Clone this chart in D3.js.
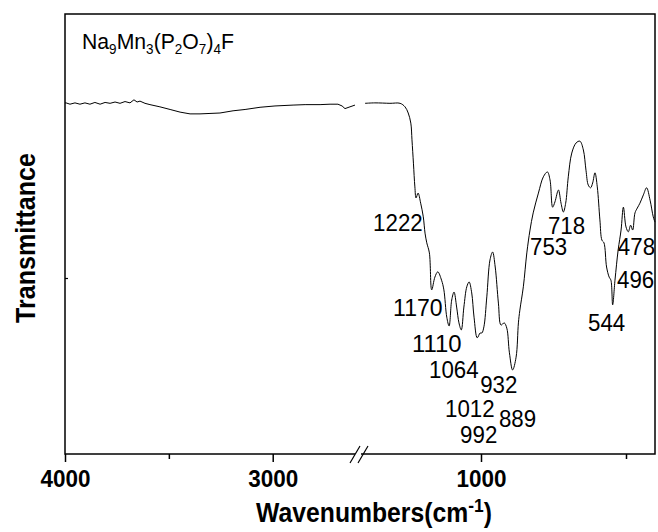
<!DOCTYPE html>
<html>
<head>
<meta charset="utf-8">
<script src="https://cdn.jsdelivr.net/npm/d3@7"></script>
<style>
  body { margin: 0; background: #fff; }
  svg { display: block; font-family: "Liberation Sans", Arial, sans-serif; }
</style>
</head>
<body>
<div id="chart"></div>
<script>
// high wavenumber part (left of the axis break)
const leftWn = [4000, 3995, 3976, 3952, 3928, 3904, 3880, 3856, 3831, 3807, 3783, 3759, 3735, 3711, 3687, 3668,
  3653, 3639, 3615, 3591, 3543, 3494, 3446, 3398, 3350, 3302, 3254, 3191, 3133, 3061, 2989, 2902, 2844, 2772,
  2724, 2686, 2666, 2652, 2628, 2604];
const leftT = [79.8, 79.8, 79.5, 79.8, 79.5, 79.8, 79.5, 79.9, 79.5, 79.9, 79.7, 80.0, 79.7, 80.1, 79.8, 80.5,
  80.0, 80.2, 79.7, 79.4, 78.9, 78.3, 77.7, 77.3, 77.3, 77.4, 77.5, 78.0, 78.3, 78.8, 79.1, 79.3, 79.4, 79.4,
  79.5, 79.5, 79.1, 78.5, 78.9, 79.3];

// fingerprint part (right of the break)
const rightWn = [1400, 1366, 1314, 1279, 1262, 1251, 1242, 1238, 1233, 1228, 1224, 1217, 1208, 1199, 1193, 1187,
  1178, 1170, 1159, 1149, 1136, 1128, 1118, 1110, 1101, 1093, 1084, 1076, 1068, 1059, 1049, 1041, 1032, 1024,
  1013, 1003, 997, 990, 980, 969, 960, 951, 940, 931, 920, 911, 902, 891, 879, 871, 866, 854, 842, 831, 820,
  802, 785, 771, 762, 753, 745, 733, 724, 716, 708, 699, 687, 672, 659, 647, 638, 630, 622, 615, 607, 599,
  590, 583, 576, 567, 558, 552, 546, 538, 527, 517, 509, 500, 492, 484, 477, 469, 461, 452, 440, 429, 417,
  406, 400];
const rightT = [79.7, 79.8, 79.7, 79.7, 78.9, 77.5, 75.2, 71.4, 66.1, 60.7, 58.2, 59.3, 57.0, 53.9, 50.2, 48.0,
  45.7, 37.3, 40.2, 41.4, 39.5, 37.3, 31.1, 29.1, 35.0, 36.8, 33.4, 29.8, 28.2, 33.4, 38.0, 39.1, 36.6, 31.1,
  26.4, 27.5, 27.5, 28.9, 35.7, 44.1, 45.9, 42.5, 34.3, 29.3, 29.8, 28.6, 23.0, 19.1, 22.0, 29.8, 32.7, 38.0,
  45.7, 50.9, 54.8, 59.3, 63.0, 64.1, 62.3, 56.1, 57.3, 60.0, 57.0, 55.0, 57.0, 63.0, 68.4, 70.7, 71.1, 69.1,
  64.5, 61.1, 60.5, 61.6, 63.9, 60.7, 53.2, 48.6, 48.0, 42.5, 40.2, 39.5, 33.9, 39.5, 46.4, 50.9, 56.1, 51.6,
  50.5, 52.0, 50.9, 54.8, 55.9, 57.0, 58.9, 60.5, 57.7, 53.9, 52.7];

// peak labels, anchored (text start, baseline) in data units
const peakText = ["1222", "1170", "1110", "1064", "1012", "992", "932", "889", "753", "718", "544", "496", "478"];
const peakAtWn = [1372, 1303, 1238, 1179, 1124, 1072, 1003, 938, 831, 769, 631, 531, 528];
const peakAtT = [50.7, 31.4, 23.2, 17.3, 8.4, 2.5, 13.9, 6.1, 45.2, 50.0, 28.0, 37.7, 45.2];

const leftTicks = [4000, 3000];
const leftMinor = [3500];
const rightTicks = [1000];
const rightMinor = [500];

const width = 658;
const height = 532;
const plot = { left: 65, right: 655, top: 14, bottom: 454 };
const breakX = 359;

const svg = d3.select("#chart").append("svg")
  .attr("width", width)
  .attr("height", height);

const xLeft = d3.scaleLinear().domain([4000, 2600]).range([plot.left, 355.8]);
const xRight = d3.scaleLinear().domain([1400, 400]).range([365, plot.right]);
const y = d3.scaleLinear().domain([0, 100]).range([plot.bottom, plot.top]);

// the original uses a narrow-looking Arial, so squeeze text horizontally to a target width
function fitWidth(node, w, anchor) {
  const b = node.getBBox();
  if (!b.width) return;
  const s = w / b.width;
  const ox = anchor === "middle" ? b.x + b.width / 2 : b.x;
  const prev = d3.select(node).attr("transform") || "";
  d3.select(node).attr("transform", `${prev} translate(${ox},0) scale(${s},1) translate(${-ox},0)`);
}

// spectrum
const leftLine = d3.line().x(d => xLeft(d[0])).y(d => y(d[1]));
const rightLine = d3.line().x(d => xRight(d[0])).y(d => y(d[1])).curve(d3.curveCatmullRom.alpha(0.5));

svg.append("path")
  .datum(d3.zip(leftWn, leftT))
  .attr("d", leftLine)
  .attr("fill", "none").attr("stroke", "#000").attr("stroke-width", 1);

svg.append("path")
  .datum(d3.zip(rightWn, rightT))
  .attr("d", rightLine)
  .attr("fill", "none").attr("stroke", "#000").attr("stroke-width", 1);

// axes
function bottomAxis(scale, ticks, size, labels) {
  const ax = d3.axisBottom(scale).tickValues(ticks).tickSizeInner(size).tickSizeOuter(0)
    .tickFormat(labels ? d3.format("d") : "");
  const gx = svg.append("g").attr("transform", `translate(0,${plot.bottom})`).call(ax);
  gx.select(".domain").remove();
  gx.selectAll("line").attr("stroke-width", 1.5);
  gx.selectAll("text")
    .attr("dy", null).attr("y", 33)
    .attr("font-family", "'Liberation Sans', Arial, sans-serif")
    .attr("font-size", 24).attr("font-weight", "bold").attr("fill", "#000")
    .each(function () { fitWidth(this, 50, "middle"); });
}
bottomAxis(xLeft, leftTicks, 8, true);
bottomAxis(xLeft, leftMinor, 5, false);
bottomAxis(xRight, rightTicks, 8, true);
bottomAxis(xRight, rightMinor, 5, false);

const gy = svg.append("g").attr("transform", `translate(${plot.left},0)`)
  .call(d3.axisLeft(y).tickValues([40]).tickSizeInner(-3).tickSizeOuter(0).tickFormat(""));
gy.select(".domain").remove();
gy.selectAll("line").attr("stroke-width", 1.2);

// frame
svg.append("rect")
  .attr("x", plot.left).attr("y", plot.top)
  .attr("width", plot.right - plot.left).attr("height", plot.bottom - plot.top)
  .attr("fill", "none").attr("stroke", "#000").attr("stroke-width", 1.5);

// axis break marks
svg.append("rect")
  .attr("x", breakX - 4).attr("y", plot.bottom - 2)
  .attr("width", 6).attr("height", 4).attr("fill", "#fff");
[-4, 4].forEach(o => {
  svg.append("line")
    .attr("x1", breakX + o - 5).attr("y1", plot.bottom + 9)
    .attr("x2", breakX + o + 5).attr("y2", plot.bottom - 8)
    .attr("stroke", "#000").attr("stroke-width", 1.2);
});

// peak labels
svg.append("g").selectAll("text")
  .data(peakText)
  .join("text")
  .attr("x", (d, i) => xRight(peakAtWn[i]))
  .attr("y", (d, i) => y(peakAtT[i]))
  .attr("font-size", 24)
  .attr("fill", "#000")
  .text(d => d)
  .each(function (d) { fitWidth(this, d.length * 12.4, "start"); });

// compound name
const formula = svg.append("text")
  .attr("x", 82).attr("y", 49)
  .attr("font-size", 22).attr("fill", "#000");
[["Na", 0], ["9", 1], ["Mn", 0], ["3", 1], ["(P", 0], ["2", 1], ["O", 0], ["7", 1], [")", 0], ["4", 1], ["F", 0]]
  .forEach(([t, sub], i, arr) => {
    const prevSub = i > 0 ? arr[i - 1][1] : 0;
    formula.append("tspan")
      .attr("dy", sub === prevSub ? 0 : (sub ? 5 : -5))
      .attr("font-size", sub ? 14 : 22)
      .text(t);
  });
fitWidth(formula.node(), 152, "start");

// axis titles
const xt = svg.append("text")
  .attr("x", 374).attr("y", 522)
  .attr("text-anchor", "middle")
  .attr("font-size", 27).attr("font-weight", "bold").attr("fill", "#000");
xt.append("tspan").text("Wavenumbers(cm");
xt.append("tspan").attr("dy", -10).attr("font-size", 19).text("-1");
xt.append("tspan").attr("dy", 10).text(")");
fitWidth(xt.node(), 236, "middle");

const yt = svg.append("g").attr("transform", `translate(35,238) rotate(-90)`)
  .append("text")
  .attr("text-anchor", "middle")
  .attr("font-size", 27).attr("font-weight", "bold").attr("fill", "#000")
  .text("Transmittance");
fitWidth(yt.node(), 170, "middle");
</script>
</body>
</html>
